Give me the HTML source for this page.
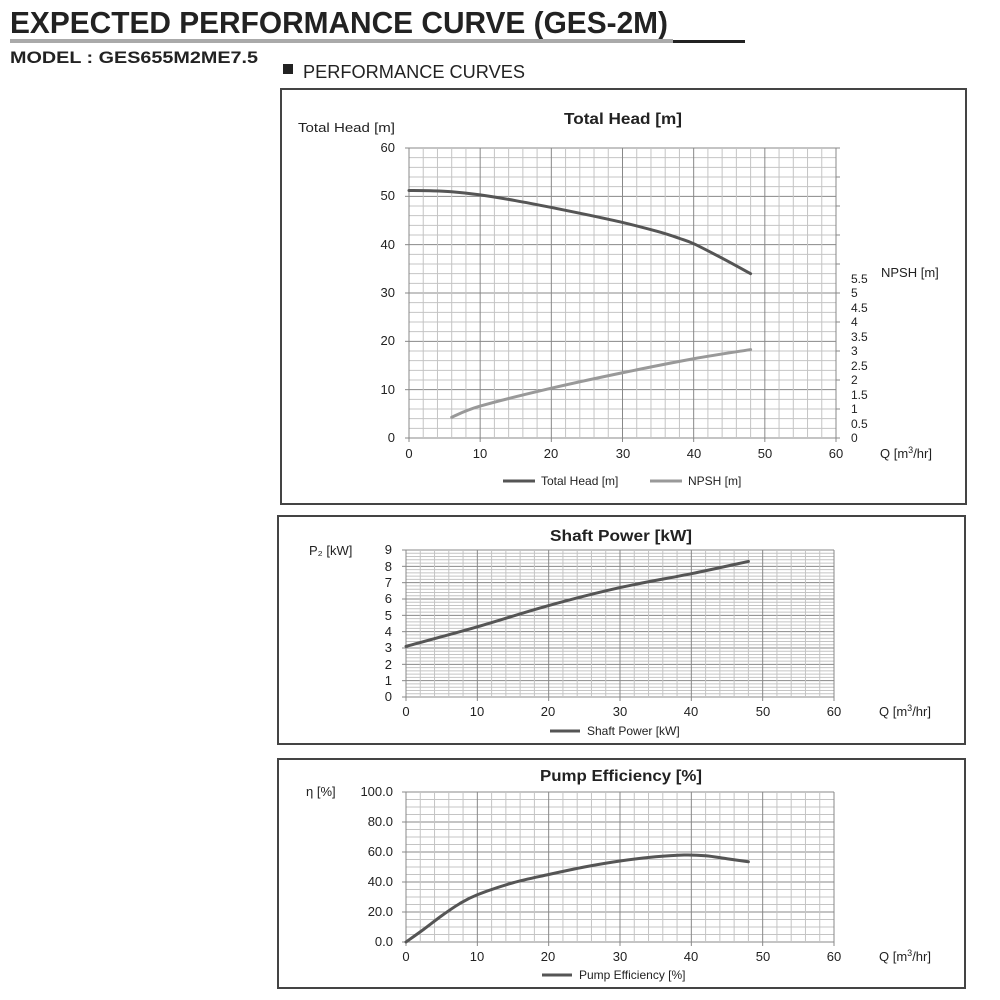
<!DOCTYPE html>
<html><head><meta charset="utf-8"><style>
body{margin:0;background:#fff;width:1000px;height:1000px;overflow:hidden;font-family:"Liberation Sans",sans-serif}
svg{position:absolute;left:0;top:0}
</style></head><body>
<svg width="1000" height="1000" viewBox="0 0 1000 1000" font-family="Liberation Sans, sans-serif">
<text x="10" y="33" font-size="31" font-weight="bold" fill="#222" textLength="658" lengthAdjust="spacingAndGlyphs">EXPECTED PERFORMANCE CURVE (GES-2M)</text>
<rect x="10" y="39" width="663" height="4" fill="#aaa"/>
<rect x="673" y="40" width="72" height="3" fill="#222"/>
<text x="10" y="63" font-size="17" font-weight="bold" fill="#222" textLength="248" lengthAdjust="spacingAndGlyphs">MODEL : GES655M2ME7.5</text>
<rect x="283" y="64" width="10" height="10" fill="#222"/>
<text x="303" y="78" font-size="18" fill="#222" textLength="222" lengthAdjust="spacingAndGlyphs">PERFORMANCE CURVES</text>
<rect x="281" y="89" width="685" height="415" fill="none" stroke="#444" stroke-width="2"/>
<rect x="278" y="516" width="687" height="228" fill="none" stroke="#444" stroke-width="2"/>
<rect x="278" y="759" width="687" height="229" fill="none" stroke="#444" stroke-width="2"/>
<g id="grids"></g>
<g font-size="13" fill="#222">
<text x="564" y="124" font-size="16" font-weight="bold" textLength="118" lengthAdjust="spacingAndGlyphs">Total Head [m]</text>
<text x="298" y="132" textLength="97" lengthAdjust="spacingAndGlyphs">Total Head [m]</text>
<g text-anchor="end"><text x="395" y="152">60</text><text x="395" y="200">50</text><text x="395" y="249">40</text><text x="395" y="297">30</text><text x="395" y="345">20</text><text x="395" y="394">10</text><text x="395" y="442">0</text></g>
<g text-anchor="middle"><text x="409" y="458">0</text><text x="480" y="458">10</text><text x="551" y="458">20</text><text x="623" y="458">30</text><text x="694" y="458">40</text><text x="765" y="458">50</text><text x="836" y="458">60</text></g>
<g font-size="12"><text x="851" y="283">5.5</text><text x="851" y="297">5</text><text x="851" y="312">4.5</text><text x="851" y="326">4</text><text x="851" y="341">3.5</text><text x="851" y="355">3</text><text x="851" y="370">2.5</text><text x="851" y="384">2</text><text x="851" y="399">1.5</text><text x="851" y="413">1</text><text x="851" y="428">0.5</text><text x="851" y="442">0</text></g>
<text x="881" y="277">NPSH [m]</text>
<text x="880" y="458">Q [m<tspan font-size="9" dy="-5">3</tspan><tspan dy="5">/hr]</tspan></text>
<line x1="503" y1="481" x2="535" y2="481" stroke="#555" stroke-width="3"/><text x="541" y="485" font-size="12">Total Head [m]</text>
<line x1="650" y1="481" x2="682" y2="481" stroke="#999" stroke-width="3"/><text x="688" y="485" font-size="12">NPSH [m]</text>

<text x="550" y="541" font-size="16" font-weight="bold" textLength="142" lengthAdjust="spacingAndGlyphs">Shaft Power [kW]</text>
<text x="309" y="555">P₂ [kW]</text>
<g text-anchor="end"><text x="392" y="554">9</text><text x="392" y="571">8</text><text x="392" y="587">7</text><text x="392" y="603">6</text><text x="392" y="620">5</text><text x="392" y="636">4</text><text x="392" y="652">3</text><text x="392" y="669">2</text><text x="392" y="685">1</text><text x="392" y="701">0</text></g>
<g text-anchor="middle"><text x="406" y="716">0</text><text x="477" y="716">10</text><text x="548" y="716">20</text><text x="620" y="716">30</text><text x="691" y="716">40</text><text x="763" y="716">50</text><text x="834" y="716">60</text></g>
<text x="879" y="716">Q [m<tspan font-size="9" dy="-5">3</tspan><tspan dy="5">/hr]</tspan></text>
<line x1="550" y1="731" x2="580" y2="731" stroke="#555" stroke-width="3"/><text x="587" y="735" font-size="12">Shaft Power [kW]</text>

<text x="540" y="781" font-size="16" font-weight="bold" textLength="162" lengthAdjust="spacingAndGlyphs">Pump Efficiency [%]</text>
<text x="306" y="796">η [%]</text>
<g text-anchor="end"><text x="393" y="796">100.0</text><text x="393" y="826">80.0</text><text x="393" y="856">60.0</text><text x="393" y="886">40.0</text><text x="393" y="916">20.0</text><text x="393" y="946">0.0</text></g>
<g text-anchor="middle"><text x="406" y="961">0</text><text x="477" y="961">10</text><text x="548" y="961">20</text><text x="620" y="961">30</text><text x="691" y="961">40</text><text x="763" y="961">50</text><text x="834" y="961">60</text></g>
<text x="879" y="961">Q [m<tspan font-size="9" dy="-5">3</tspan><tspan dy="5">/hr]</tspan></text>
<line x1="542" y1="975" x2="572" y2="975" stroke="#555" stroke-width="3"/><text x="579" y="979" font-size="12">Pump Efficiency [%]</text>
</g>
<g id="curves" fill="none" stroke-linecap="round" stroke-linejoin="round"></g>
</svg>
<script>
var NS="http://www.w3.org/2000/svg",G=document.getElementById('grids'),C=document.getElementById('curves');
function ln(x1,y1,x2,y2,c,w){var l=document.createElementNS(NS,'line');l.setAttribute('x1',x1);l.setAttribute('y1',y1);l.setAttribute('x2',x2);l.setAttribute('y2',y2);l.setAttribute('stroke',c);l.setAttribute('stroke-width',w||1);G.appendChild(l);}
function grid(x0,x1,y0,yt,nx,ny,majY,tickY,right){
 for(var i=0;i<=ny;i++){var y=y0+(yt-y0)*i/ny;var m=i%majY==0;ln(x0,y,x1,y,m?'#888':'#c4c4c4');if(i%tickY==0)ln(x0-4,y,x0,y,'#888');}
 for(var j=0;j<=nx;j++){var x=x0+(x1-x0)*j/nx;var m=j%5==0;ln(x,yt,x,y0,m?'#888':'#c4c4c4');if(m)ln(x,y0,x,y0+4,'#888');}
 ln(x0,yt,x0,y0,'#888');if(right){for(var i=0;i<=ny;i++){var y=y0+(yt-y0)*i/ny;if(i%3==0&&i<=33)ln(x1,y,x1+4,y,'#888');}ln(x1,yt,x1,y0,'#888');}
}
grid(409,836,438,148,30,30,5,5,true);
grid(406,834,697,550,30,45,5,5,false);
grid(406,834,942,792,30,20,4,4,false);
function curve(pts,x0,x1,y0,yt,ymax,col){
 var P=pts.map(function(p){return [x0+(x1-x0)*p[0]/60,y0+(yt-y0)*p[1]/ymax];});
 var d='M'+P[0];
 for(var i=0;i<P.length-1;i++){var p0=P[i-1]||P[i],p1=P[i],p2=P[i+1],p3=P[i+2]||p2;
  d+='C'+(p1[0]+(p2[0]-p0[0])/6)+','+(p1[1]+(p2[1]-p0[1])/6)+' '+(p2[0]-(p3[0]-p1[0])/6)+','+(p2[1]-(p3[1]-p1[1])/6)+' '+p2;}
 var p=document.createElementNS(NS,'path');p.setAttribute('d',d);p.setAttribute('stroke',col);p.setAttribute('stroke-width',3);C.appendChild(p);}
curve([[0,51.2],[3,51.15],[6,50.95],[10,50.3],[15,49.1],[20,47.7],[25,46.2],[30,44.6],[35,42.7],[38,41.3],[40,40.2],[44,37.2],[48,34]],409,836,438,148,60,'#555');
curve([[6,4.3],[10,6.6],[20,10.3],[30,13.5],[40,16.4],[48,18.3]],409,836,438,148,60,'#999');
curve([[0,3.1],[10,4.3],[20,5.6],[30,6.7],[40,7.55],[48,8.3]],406,834,697,550,9,'#555');
curve([[0,0],[2.5,8.5],[5,17.5],[7.5,25.5],[10,31.5],[15,39.5],[20,45],[25,50],[30,54],[35,56.8],[39,58],[42,57.5],[45,55.5],[48,53.5]],406,834,942,792,100,'#555');
</script>
</body></html>
